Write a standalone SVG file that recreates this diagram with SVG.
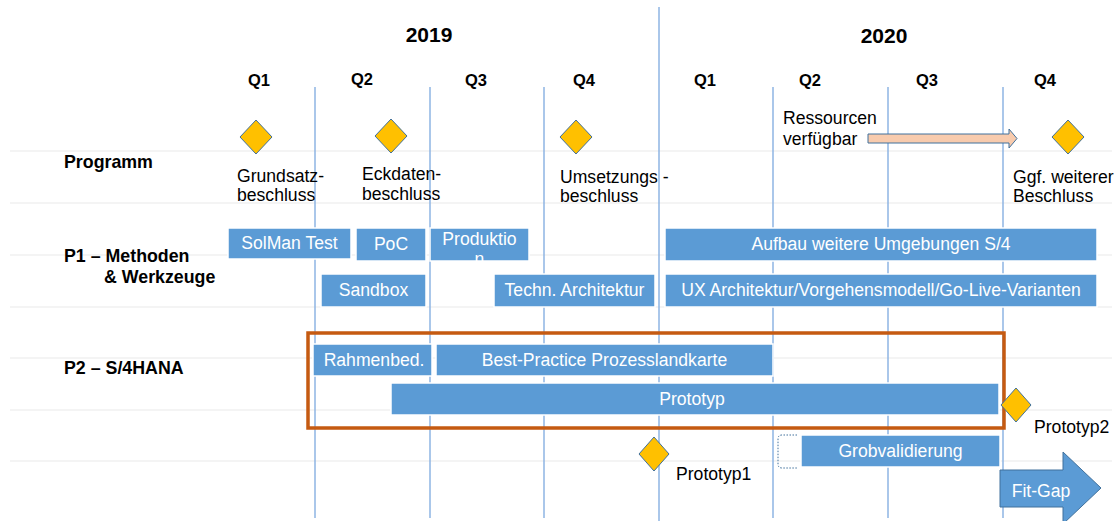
<svg xmlns="http://www.w3.org/2000/svg" width="1115" height="521" viewBox="0 0 1115 521">
  <style>
    text { font-family: "Liberation Sans", Arial, sans-serif; fill: #000; }
    .year { font-size: 21px; font-weight: bold; text-anchor: middle; }
    .q { font-size: 16.5px; font-weight: bold; text-anchor: middle; }
    .row { font-size: 17.8px; font-weight: bold; }
    .lbl { font-size: 17.6px; }
    .bar { fill: #5b9bd5; stroke: #ffffff; stroke-width: 1.5; }
    .bt { font-size: 17.6px; fill: #ffffff; text-anchor: middle; }
    .grid { stroke: #f0f0f0; stroke-width: 1.5; }
    .qline { stroke: #8eb4e3; stroke-width: 1.5; }
    .ms { fill: #ffc000; stroke: #41719c; stroke-width: 1; }
  </style>

  <!-- swimlane grid -->
  <g id="grid">
    <line class="grid" x1="10" y1="151" x2="1112" y2="151"/>
    <line class="grid" x1="10" y1="203" x2="1112" y2="203"/>
    <line class="grid" x1="10" y1="255" x2="1112" y2="255"/>
    <line class="grid" x1="10" y1="307" x2="1112" y2="307"/>
    <line class="grid" x1="10" y1="358" x2="1112" y2="358"/>
    <line class="grid" x1="10" y1="410" x2="1112" y2="410"/>
    <line class="grid" x1="10" y1="461" x2="1112" y2="461"/>
  </g>

  <!-- quarter separators -->
  <g id="quarter-lines">
    <line class="qline" x1="315" y1="87" x2="315" y2="518"/>
    <line class="qline" x1="430" y1="87" x2="430" y2="518"/>
    <line class="qline" x1="544" y1="87" x2="544" y2="518"/>
    <line class="qline" x1="659" y1="7" x2="659" y2="521"/>
    <line class="qline" x1="773" y1="87" x2="773" y2="518"/>
    <line class="qline" x1="888" y1="87" x2="888" y2="518"/>
    <line class="qline" x1="1003" y1="87" x2="1003" y2="518"/>
  </g>

  <!-- timeline header -->
  <g id="header">
    <text class="year" x="429" y="42">2019</text>
    <text class="year" x="884" y="43">2020</text>
    <text class="q" x="259" y="86">Q1</text>
    <text class="q" x="362" y="85">Q2</text>
    <text class="q" x="476" y="86">Q3</text>
    <text class="q" x="584" y="86">Q4</text>
    <text class="q" x="705" y="86">Q1</text>
    <text class="q" x="810" y="86">Q2</text>
    <text class="q" x="927" y="86">Q3</text>
    <text class="q" x="1045" y="86">Q4</text>
  </g>

  <!-- row labels -->
  <g id="rows">
    <text class="row" x="64" y="168">Programm</text>
    <text class="row" x="64" y="262">P1 – Methoden</text>
    <text class="row" x="104" y="283">&amp; Werkzeuge</text>
    <text class="row" x="64" y="374">P2 – S/4HANA</text>
  </g>

  <!-- programme milestones -->
  <g id="ms-grundsatz">
    <polygon class="ms" points="256,120 272,137 256,154 240,137"/>
    <text class="lbl" x="237" y="182">Grundsatz-</text>
    <text class="lbl" x="237" y="201">beschluss</text>
  </g>
  <g id="ms-eckdaten">
    <polygon class="ms" points="391,119 407,136 391,153 375,136"/>
    <text class="lbl" x="362" y="180">Eckdaten-</text>
    <text class="lbl" x="362" y="200">beschluss</text>
  </g>
  <g id="ms-umsetzung">
    <polygon class="ms" points="576,120 592,137 576,154 560,137"/>
    <text class="lbl" x="560" y="183">Umsetzungs -</text>
    <text class="lbl" x="560" y="202">beschluss</text>
  </g>
  <g id="ressourcen">
    <text class="lbl" x="783" y="124">Ressourcen</text>
    <text class="lbl" x="783" y="145">verfügbar</text>
    <path d="M868,134 H1009 V129 L1017,138.5 L1009,148 V143 H868 Z" fill="#f8cbad" stroke="#41719c" stroke-width="1"/>
  </g>
  <g id="ms-weiterer">
    <polygon class="ms" points="1068,120 1084,137 1068,154 1052,137"/>
    <text class="lbl" x="1013" y="183">Ggf. weiterer</text>
    <text class="lbl" x="1013" y="202">Beschluss</text>
  </g>

  <!-- P1 bars -->
  <g id="solman-test">
    <rect class="bar" x="228" y="228" width="123" height="31"/>
    <text class="bt" x="289.5" y="249">SolMan Test</text>
  </g>
  <g id="poc">
    <rect class="bar" x="356" y="228" width="70" height="33"/>
    <text class="bt" x="391" y="250">PoC</text>
  </g>
  <g id="produktion">
    <rect class="bar" x="430" y="228" width="99" height="33"/>
    <text class="bt" x="479.5" y="245">Produktio</text>
    <text class="bt" x="479.5" y="265">n</text>
  </g>
  <g id="sandbox">
    <rect class="bar" x="321" y="274" width="105" height="33"/>
    <text class="bt" x="373.5" y="296">Sandbox</text>
  </g>
  <g id="techn-architektur">
    <rect class="bar" x="494" y="274" width="161" height="33"/>
    <text class="bt" x="574.5" y="296">Techn. Architektur</text>
  </g>
  <g id="aufbau">
    <rect class="bar" x="665" y="228" width="432" height="33"/>
    <text class="bt" x="881" y="250">Aufbau weitere Umgebungen S/4</text>
  </g>
  <g id="ux-architektur">
    <rect class="bar" x="665" y="274" width="432" height="33"/>
    <text class="bt" x="881" y="296">UX Architektur/Vorgehensmodell/Go-Live-Varianten</text>
  </g>

  <!-- P2 bars -->
  <g id="rahmenbed">
    <rect class="bar" x="313" y="344" width="119" height="32"/>
    <text class="bt" x="374" y="366">Rahmenbed.</text>
  </g>
  <g id="prozesslandkarte">
    <rect class="bar" x="436" y="344" width="337" height="32"/>
    <text class="bt" x="604.5" y="366">Best-Practice Prozesslandkarte</text>
  </g>
  <g id="prototyp">
    <rect class="bar" x="391" y="383" width="608" height="32"/>
    <text class="bt" x="692" y="405">Prototyp</text>
  </g>

  <!-- P2 frame -->
  <g id="p2-frame">
    <rect x="308" y="333" width="696" height="95" fill="none" stroke="#c55a11" stroke-width="3.5"/>
  </g>

  <g id="ms-prototyp1">
    <polygon class="ms" points="654,437 669,454 654,471 639,454"/>
    <text class="lbl" x="676" y="480">Prototyp1</text>
  </g>
  <g id="ms-prototyp2">
    <polygon class="ms" points="1016,388 1031,405 1016,422 1001,405"/>
    <text class="lbl" x="1034" y="433">Prototyp2</text>
  </g>

  <g id="grobvalidierung">
    <path d="M797,435 H782 Q778,435 778,439 V464 Q778,468 782,468 H797" fill="none" stroke="#41719c" stroke-width="1" stroke-dasharray="1.5 1.5"/>
    <rect class="bar" x="801" y="435" width="199" height="32"/>
    <text class="bt" x="900.5" y="457">Grobvalidierung</text>
  </g>

  <g id="fit-gap">
    <path d="M1000,470 H1063 V452 L1101,488 L1063,524 V507 H1000 Z" fill="#5b9bd5" stroke="#41719c" stroke-width="1"/>
    <text class="bt" x="1041" y="497">Fit-Gap</text>
  </g>
</svg>
